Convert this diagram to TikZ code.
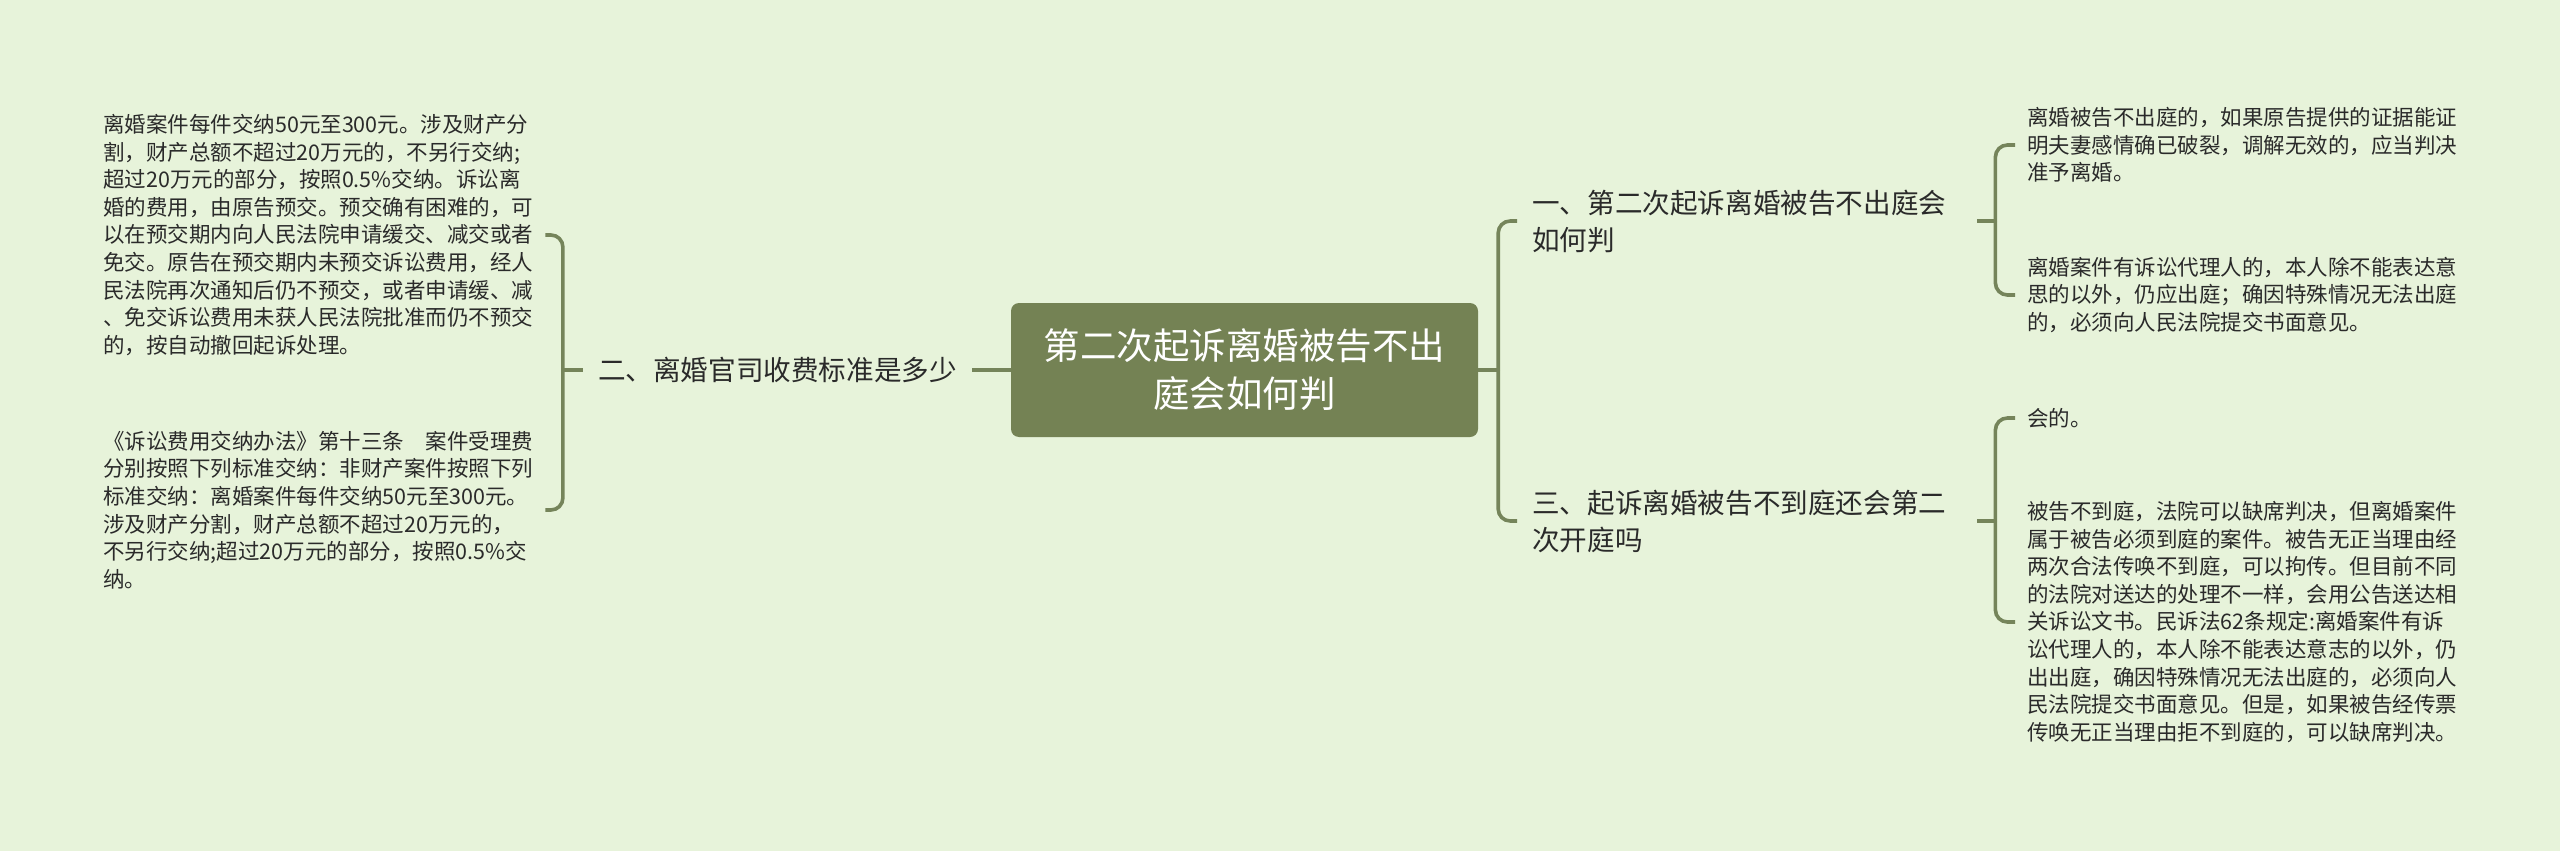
\documentclass[tikz,border=0pt]{standalone}
\usepackage{fontspec}
\newfontfamily\cjk{Noto Sans CJK SC}
\usetikzlibrary{calc}
\definecolor{bgc}{HTML}{E7F3DA}
\definecolor{rootc}{HTML}{748254}
\definecolor{linec}{HTML}{75845A}
\definecolor{txtc}{HTML}{2A2A2A}
\tikzset{
  rootbox/.style={draw=none, fill=rootc, rounded corners=8pt, minimum width=467pt, minimum height=134pt,
    text=white, align=center, font=\cjk\fontsize{36.5}{48}\selectfont, inner sep=0pt},
  branch/.style={text=txtc, align=left, font=\cjk\fontsize{27.6}{37}\selectfont, inner xsep=15pt, inner ysep=0pt},
  leaf/.style={text=txtc, align=left, text width=430pt, font=\cjk\fontsize{21.5}{27.6}\selectfont, inner xsep=12pt, inner ysep=0pt},
  conn/.style={draw=linec, line width=3.6pt},
  bracket/.style={conn, rounded corners=12pt},
}
\begin{document}
\begin{tikzpicture}[x=1pt, y=-1pt]
\fill[bgc] (0,0) rectangle (2560,851);
\useasboundingbox (0,0) rectangle (2560,851);

% root
\node[rootbox] (root) at (1244.5,370) {第二次起诉离婚被告不出\\庭会如何判};

% branches
\node[branch, anchor=center] (b2) at (777.5,370) {二、离婚官司收费标准是多少};
\node[branch, anchor=west, text width=430pt] (b1) at (1517,221) {一、第二次起诉离婚被告不出庭会\\如何判};
\node[branch, anchor=west, text width=430pt] (b3) at (1517,521) {三、起诉离婚被告不到庭还会第二\\次开庭吗};

% left leaves
\node[leaf, anchor=west] (l1) at (91,235) {离婚案件每件交纳50元至300元。涉及财产分\\割，财产总额不超过20万元的，不另行交纳;\\超过20万元的部分，按照0.5\%交纳。诉讼离\\婚的费用，由原告预交。预交确有困难的，可\\以在预交期内向人民法院申请缓交、减交或者\\免交。原告在预交期内未预交诉讼费用，经人\\民法院再次通知后仍不预交，或者申请缓、减\\、免交诉讼费用未获人民法院批准而仍不预交\\的，按自动撤回起诉处理。};
\node[leaf, anchor=west] (l2) at (91,510) {《诉讼费用交纳办法》第十三条　案件受理费\\分别按照下列标准交纳：非财产案件按照下列\\标准交纳：离婚案件每件交纳50元至300元。\\涉及财产分割，财产总额不超过20万元的，\\不另行交纳;超过20万元的部分，按照0.5\%交\\纳。};

% right leaves
\node[leaf, anchor=west] (r1) at (2015,145) {离婚被告不出庭的，如果原告提供的证据能证\\明夫妻感情确已破裂，调解无效的，应当判决\\准予离婚。};
\node[leaf, anchor=west] (r2) at (2015,295) {离婚案件有诉讼代理人的，本人除不能表达意\\思的以外，仍应出庭；确因特殊情况无法出庭\\的，必须向人民法院提交书面意见。};
\node[leaf, anchor=west] (r3) at (2015,418) {会的。};
\node[leaf, anchor=west] (r4) at (2015,622) {被告不到庭，法院可以缺席判决，但离婚案件\\属于被告必须到庭的案件。被告无正当理由经\\两次合法传唤不到庭，可以拘传。但目前不同\\的法院对送达的处理不一样，会用公告送达相\\关诉讼文书。民诉法62条规定:离婚案件有诉\\讼代理人的，本人除不能表达意志的以外，仍\\出出庭，确因特殊情况无法出庭的，必须向人\\民法院提交书面意见。但是，如果被告经传票\\传唤无正当理由拒不到庭的，可以缺席判决。};

% junction coordinates
\coordinate (jl) at ($(b2.west)+(-20,0)$);
\coordinate (jr) at ($(root.east)+(20,0)$);
\coordinate (j1) at ($(b1.east)+(18,0)$);
\coordinate (j3) at ($(b3.east)+(18,0)$);

% connectors
\draw[conn] (root.west) -- (b2.east);
\draw[conn] (b2.west) -- (jl);
\draw[bracket] (jl) |- (l1.east);
\draw[bracket] (jl) |- (l2.east);

\draw[conn] (root.east) -- (jr);
\draw[bracket] (jr) |- (b1.west);
\draw[bracket] (jr) |- (b3.west);

\draw[conn] (b1.east) -- (j1);
\draw[bracket] (j1) |- (r1.west);
\draw[bracket] (j1) |- (r2.west);

\draw[conn] (b3.east) -- (j3);
\draw[bracket] (j3) |- (r3.west);
\draw[bracket] (j3) |- (r4.west);
\end{tikzpicture}
\end{document}
